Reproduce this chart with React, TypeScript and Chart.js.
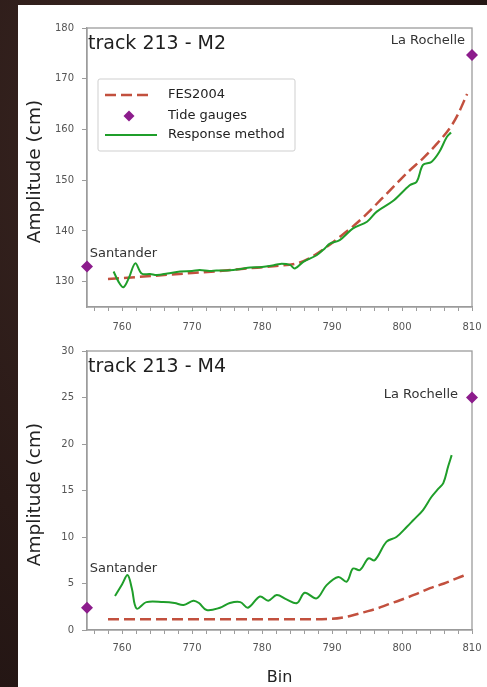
import React, { useEffect, useRef } from "react";
import { Chart, registerables } from "chart.js";

Chart.register(...registerables);

// ---------------- data ----------------
const X_MIN = 755;
const X_MAX = 810;
const X_TICK_LABELS = [760, 770, 780, 790, 800, 810];

const GAUGE_BINS = [755, 810];
const GAUGE_NAMES = ["Santander", "La Rochelle"];

const Y_TITLE = "Amplitude (cm)";
const X_TITLE = "Bin";

// M2
const M2_TITLE = "track 213 - M2";
const M2_Y_TICKS = [130, 140, 150, 160, 170, 180];
const M2_FES_BIN = [758, 762, 766, 770, 774, 778, 782, 785, 787, 789, 791, 793, 795, 797, 799, 801, 803, 805, 807, 808, 809.3];
const M2_FES_AMP = [130.5, 130.9, 131.3, 131.7, 132.1, 132.6, 133.1, 133.6, 134.8, 136.6, 138.7, 140.9, 143.4, 146.2, 149.0, 151.8, 154.3, 157.2, 160.6, 163.0, 167.0];
const M2_RESP_BIN = [758.8, 759.5, 760.2, 761.0, 761.9, 762.8, 764.0, 765.0, 766.5, 768.3, 770.0, 771.1, 772.5, 773.5, 775.0, 775.9, 777.0, 778.3, 780.0, 781.5, 782.6, 784.0, 784.7, 785.9, 787.8, 789.0, 789.7, 791.1, 793.0, 795.0, 796.4, 798.8, 801.1, 802.1, 803.0, 804.2, 805.3, 806.4, 807.0];
const M2_RESP_AMP = [132.0, 130.0, 128.9, 130.8, 133.6, 131.6, 131.5, 131.3, 131.6, 132.0, 132.1, 132.3, 132.1, 132.2, 132.2, 132.3, 132.5, 132.8, 132.9, 133.2, 133.5, 133.3, 132.6, 133.9, 135.2, 136.6, 137.5, 138.2, 140.5, 141.8, 143.8, 146.0, 149.0, 149.7, 153.0, 153.6, 155.5, 158.5, 159.4];
const M2_GAUGE_AMP = [133.0, 174.7];
const M2_LABEL_BIN = [755.4, 809.0];
const M2_LABEL_AMP = [135.6, 177.6];

// M4
const M4_TITLE = "track 213 - M4";
const M4_Y_TICKS = [0, 5, 10, 15, 20, 25, 30];
const M4_FES_BIN = [758, 765, 772, 779, 786, 790, 792.6, 794.5, 796.4, 798, 799.7, 802, 804, 806, 808.3, 809];
const M4_FES_AMP = [1.15, 1.15, 1.15, 1.15, 1.15, 1.2, 1.5, 1.9, 2.3, 2.75, 3.2, 3.85, 4.5, 5.0, 5.7, 5.9];
const M4_RESP_BIN = [759.0, 760.0, 760.8, 761.4, 762.1, 763.5, 765.9, 767.5, 768.8, 770.2, 771.0, 772.1, 774.0, 775.4, 776.9, 778.0, 779.7, 780.9, 782.1, 783.5, 785.0, 786.1, 787.8, 789.2, 790.9, 792.1, 793.0, 794.0, 795.2, 796.1, 797.8, 799.2, 800.7, 801.6, 803.0, 804.2, 805.2, 805.9, 806.6, 807.1];
const M4_RESP_AMP = [3.66, 4.9, 5.9, 4.5, 2.3, 3.0, 3.0, 2.9, 2.7, 3.15, 2.9, 2.15, 2.4, 2.9, 3.0, 2.4, 3.6, 3.15, 3.76, 3.3, 2.9, 4.0, 3.4, 4.8, 5.7, 5.2, 6.6, 6.45, 7.7, 7.5, 9.5, 10.0, 11.1, 11.8, 12.9, 14.3, 15.2, 15.8, 17.6, 18.8];
const M4_GAUGE_AMP = [2.4, 25.0];
const M4_LABEL_BIN = [755.4, 808.0];
const M4_LABEL_AMP = [6.6, 25.3];

const LEGEND_LABELS = ["FES2004", "Tide gauges", "Response method"];

// ---------------- styles ----------------
const FONT = '"DejaVu Sans", "Liberation Sans", sans-serif';
const AXIS_COLOR = "#9c9c9c";
const TICK_TEXT = "#555555";
const FES_COLOR = "#c2503e";
const RESP_COLOR = "#1f9e2a";
const GAUGE_COLOR = "#8c1c8c";
const FES_DASH = [11, 5];

Chart.defaults.font.family = FONT;

const zip = (xs: number[], ys: number[]) => xs.map((x, i) => ({ x, y: ys[i] }));

const overlayPlugin = {
  id: "overlay",
  beforeDatasetsDraw(chart: any) {
    const { ctx, chartArea: ca } = chart;
    ctx.save();
    ctx.strokeStyle = AXIS_COLOR;
    ctx.lineWidth = 1.3;
    ctx.strokeRect(ca.left, ca.top, ca.right - ca.left, ca.bottom - ca.top);
    ctx.restore();
  },
  afterDatasetsDraw(chart: any, _args: any, opts: any) {
    const { ctx, chartArea: ca, scales } = chart;
    ctx.save();
    // y-axis title
    ctx.save();
    ctx.translate(17, (ca.top + ca.bottom) / 2 + 4);
    ctx.rotate(-Math.PI / 2);
    ctx.fillStyle = "#222222";
    ctx.font = `18.5px ${FONT}`;
    ctx.textAlign = "center";
    ctx.textBaseline = "middle";
    ctx.fillText(Y_TITLE, 0, 0);
    ctx.restore();
    // panel title
    ctx.fillStyle = "#1e1e1e";
    ctx.font = `19px ${FONT}`;
    ctx.textAlign = "left";
    ctx.textBaseline = "middle";
    ctx.fillText(opts.title, ca.left + 1, ca.top + 16);
    // station labels
    ctx.font = `13px ${FONT}`;
    ctx.fillStyle = "#333333";
    opts.labelBins.forEach((b: number, i: number) => {
      const px = scales.x.getPixelForValue(b);
      const py = scales.y.getPixelForValue(opts.labelAmps[i]);
      ctx.textAlign = i === 0 ? "left" : "right";
      ctx.fillText(GAUGE_NAMES[i], px, py);
    });
    // legend
    if (opts.legend) {
      const x0 = ca.left + 11;
      const y0 = ca.top + 51;
      const w = 197;
      const h = 72;
      ctx.beginPath();
      (ctx as any).roundRect(x0, y0, w, h, 2);
      ctx.fillStyle = "rgba(255,255,255,0.92)";
      ctx.fill();
      ctx.strokeStyle = "#cfcfcf";
      ctx.lineWidth = 1;
      ctx.stroke();
      const rows = [16, 37, 56];
      ctx.font = `13px ${FONT}`;
      ctx.textAlign = "left";
      ctx.textBaseline = "middle";
      LEGEND_LABELS.forEach((lab, i) => {
        const cy = y0 + rows[i];
        if (i === 0) {
          ctx.beginPath();
          ctx.setLineDash(FES_DASH);
          ctx.strokeStyle = FES_COLOR;
          ctx.lineWidth = 2.5;
          ctx.moveTo(x0 + 7, cy);
          ctx.lineTo(x0 + 53, cy);
          ctx.stroke();
          ctx.setLineDash([]);
        } else if (i === 1) {
          const cx = x0 + 31;
          const r = 5.5;
          ctx.beginPath();
          ctx.moveTo(cx, cy - r);
          ctx.lineTo(cx + r, cy);
          ctx.lineTo(cx, cy + r);
          ctx.lineTo(cx - r, cy);
          ctx.closePath();
          ctx.fillStyle = GAUGE_COLOR;
          ctx.fill();
        } else {
          ctx.beginPath();
          ctx.strokeStyle = RESP_COLOR;
          ctx.lineWidth = 2;
          ctx.moveTo(x0 + 7, cy);
          ctx.lineTo(x0 + 59, cy);
          ctx.stroke();
        }
        ctx.fillStyle = "#222222";
        ctx.fillText(lab, x0 + 70, cy);
      });
    }
    ctx.restore();
  },
};

type Spec = {
  title: string;
  yTicks: number[];
  yMin: number;
  yMax: number;
  fesBin: number[];
  fesAmp: number[];
  respBin: number[];
  respAmp: number[];
  gaugeAmp: number[];
  labelBins: number[];
  labelAmps: number[];
  legend: boolean;
  xTitle: boolean;
  width: number;
  height: number;
  padTop: number;
  xAxisHeight: number;
  xTickPad: number;
};

function buildConfig(s: Spec): any {
  return {
    type: "line",
    data: {
      datasets: [
        {
          label: "Tide gauges",
          data: zip(GAUGE_BINS, s.gaugeAmp),
          showLine: false,
          pointStyle: "rectRot",
          pointRadius: 6,
          pointBackgroundColor: GAUGE_COLOR,
          pointBorderColor: GAUGE_COLOR,
          pointBorderWidth: 0,
          clip: false,
          order: 0,
        },
        {
          label: "Response method",
          data: zip(s.respBin, s.respAmp),
          borderColor: RESP_COLOR,
          borderWidth: 2,
          pointRadius: 0,
          tension: 0.35,
          fill: false,
          order: 1,
        },
        {
          label: "FES2004",
          data: zip(s.fesBin, s.fesAmp),
          borderColor: FES_COLOR,
          borderWidth: 2.5,
          borderDash: FES_DASH,
          pointRadius: 0,
          cubicInterpolationMode: "monotone",
          fill: false,
          order: 2,
        },
      ],
    },
    options: {
      responsive: false,
      maintainAspectRatio: false,
      animation: false,
      devicePixelRatio: 1,
      events: [],
      layout: { padding: { top: s.padTop, right: 15, left: 0, bottom: 0 } },
      plugins: {
        legend: { display: false },
        tooltip: { enabled: false },
        overlay: {
          title: s.title,
          labelBins: s.labelBins,
          labelAmps: s.labelAmps,
          legend: s.legend,
        },
      },
      scales: {
        x: {
          type: "linear",
          min: X_MIN,
          max: X_MAX,
          afterFit: (sc: any) => {
            sc.height = s.xAxisHeight;
            sc.paddingLeft = 0;
            sc.paddingRight = 0;
          },
          afterBuildTicks: (sc: any) => {
            sc.ticks = sc.ticks.filter((t: any) => t.value > X_MIN && t.value % 2 === 0);
          },
          ticks: {
            stepSize: 2,
            includeBounds: false,
            autoSkip: false,
            maxRotation: 0,
            padding: s.xTickPad,
            color: TICK_TEXT,
            font: { size: 10, family: FONT },
            callback: (v: number) => (X_TICK_LABELS.includes(v) ? String(v) : ""),
          },
          grid: {
            drawOnChartArea: false,
            drawTicks: true,
            tickLength: 4,
            color: AXIS_COLOR,
            lineWidth: 1,
          },
          border: { display: true, color: AXIS_COLOR, width: 1.3 },
          title: {
            display: s.xTitle,
            text: X_TITLE,
            color: "#222222",
            font: { size: 16, family: FONT },
            padding: { top: 0, bottom: 0 },
          },
        },
        y: {
          type: "linear",
          min: s.yMin,
          max: s.yMax,
          afterFit: (sc: any) => {
            sc.width = 69;
            sc.paddingTop = 0;
            sc.paddingBottom = 0;
          },
          afterBuildTicks: (sc: any) => {
            sc.ticks = s.yTicks.map((v) => ({ value: v }));
          },
          ticks: {
            padding: 8,
            color: TICK_TEXT,
            font: { size: 10, family: FONT },
            callback: (v: number) => String(v),
          },
          grid: {
            drawOnChartArea: false,
            drawTicks: true,
            tickLength: 5,
            color: AXIS_COLOR,
            lineWidth: 1,
          },
          border: { display: true, color: AXIS_COLOR, width: 1.3 },
          title: { display: false },
        },
      },
    },
    plugins: [overlayPlugin],
  };
}

function Panel({ spec, left, top }: { spec: Spec; left: number; top: number }) {
  const ref = useRef<HTMLCanvasElement>(null);
  useEffect(() => {
    const chart = new Chart(ref.current as HTMLCanvasElement, buildConfig(spec));
    return () => chart.destroy();
  }, []);
  return (
    <canvas
      ref={ref}
      width={spec.width}
      height={spec.height}
      style={{ position: "absolute", left, top, width: spec.width, height: spec.height }}
    />
  );
}

const M2_SPEC: Spec = {
  title: M2_TITLE,
  yTicks: M2_Y_TICKS,
  yMin: 125,
  yMax: 180,
  fesBin: M2_FES_BIN,
  fesAmp: M2_FES_AMP,
  respBin: M2_RESP_BIN,
  respAmp: M2_RESP_AMP,
  gaugeAmp: M2_GAUGE_AMP,
  labelBins: M2_LABEL_BIN,
  labelAmps: M2_LABEL_AMP,
  legend: true,
  xTitle: false,
  width: 469,
  height: 335,
  padTop: 23,
  xAxisHeight: 33,
  xTickPad: 10,
};

const M4_SPEC: Spec = {
  title: M4_TITLE,
  yTicks: M4_Y_TICKS,
  yMin: 0,
  yMax: 30,
  fesBin: M4_FES_BIN,
  fesAmp: M4_FES_AMP,
  respBin: M4_RESP_BIN,
  respAmp: M4_RESP_AMP,
  gaugeAmp: M4_GAUGE_AMP,
  labelBins: M4_LABEL_BIN,
  labelAmps: M4_LABEL_AMP,
  legend: false,
  xTitle: true,
  width: 469,
  height: 347,
  padTop: 11,
  xAxisHeight: 57,
  xTickPad: 8,
};

export default function App() {
  return (
    <div
      style={{
        position: "absolute",
        left: 0,
        top: 0,
        width: 487,
        height: 687,
        overflow: "hidden",
        background: "radial-gradient(ellipse at 30% 20%, #3a2622 0%, #2a1a17 55%, #1e1211 100%)",
      }}
    >
      <div style={{ position: "absolute", left: 18, top: 5, width: 469, height: 682, background: "#ffffff" }} />
      <Panel spec={M2_SPEC} left={18} top={5} />
      <Panel spec={M4_SPEC} left={18} top={340} />
    </div>
  );
}
